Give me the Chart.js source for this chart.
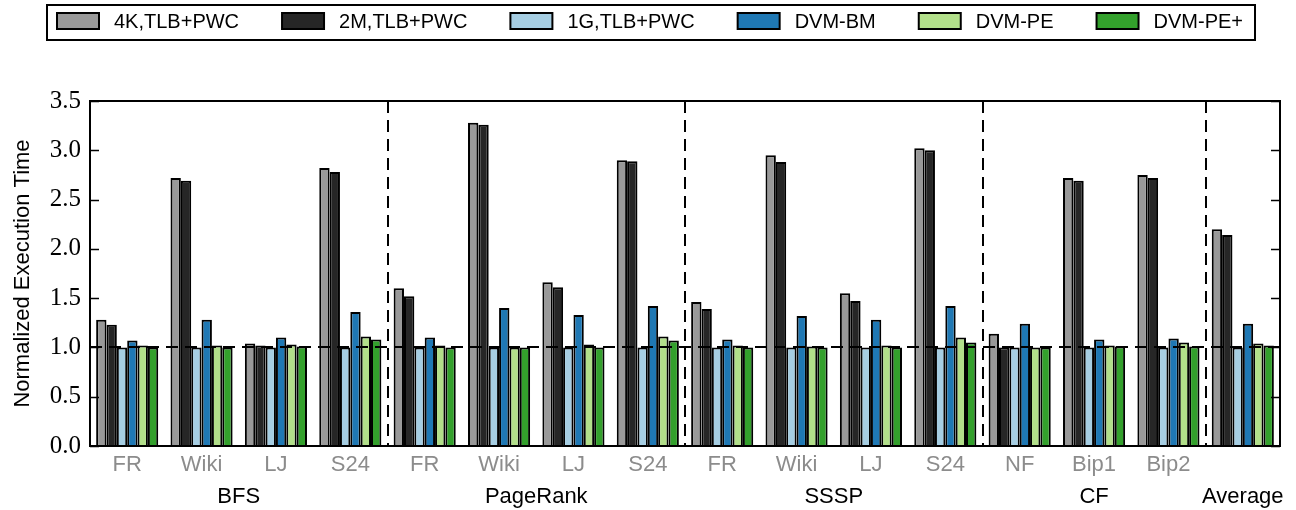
<!DOCTYPE html>
<html>
<head>
<meta charset="utf-8">
<script src="https://cdn.jsdelivr.net/npm/chart.js@4"></script>
<style>
  html, body { margin: 0; padding: 0; background: #fff; }
  #wrap { width: 1296px; height: 510px; }
</style>
</head>
<body>
<div id="wrap"><canvas id="chart" width="1296" height="510"></canvas></div>
<script>
// categories (inputs per workload) and the workload groups under them
const categories = ['FR', 'Wiki', 'LJ', 'S24', 'FR', 'Wiki', 'LJ', 'S24', 'FR', 'Wiki', 'LJ', 'S24', 'NF', 'Bip1', 'Bip2', ''];
const groupNames = ['BFS', 'PageRank', 'SSSP', 'CF', 'Average'];
const groupSizes = [4, 4, 4, 3, 1];

const seriesLabels = ['4K,TLB+PWC', '2M,TLB+PWC', '1G,TLB+PWC', 'DVM-BM', 'DVM-PE', 'DVM-PE+'];
const seriesColors = ['#999999', '#262626', '#a6cee3', '#1f78b4', '#b2df8a', '#33a02c'];

// normalized execution time
const tlb4k  = [1.28, 2.72, 1.04, 2.82, 1.60, 3.28, 1.66, 2.90, 1.46, 2.95, 1.55, 3.02, 1.14, 2.72, 2.75, 2.20];
const tlb2m  = [1.23, 2.69, 1.02, 2.78, 1.52, 3.26, 1.61, 2.89, 1.39, 2.88, 1.47, 3.00, 1.00, 2.69, 2.72, 2.14];
const tlb1g  = [1.00, 1.00, 1.00, 1.00, 1.00, 1.00, 1.00, 1.00, 1.00, 1.00, 1.00, 1.00, 1.00, 1.00, 1.00, 1.00];
const dvmBm  = [1.07, 1.28, 1.10, 1.36, 1.10, 1.40, 1.33, 1.42, 1.08, 1.32, 1.28, 1.42, 1.24, 1.08, 1.09, 1.24];
const dvmPe  = [1.02, 1.02, 1.03, 1.11, 1.02, 1.00, 1.03, 1.11, 1.02, 1.01, 1.02, 1.10, 1.00, 1.02, 1.05, 1.04];
const dvmPeP = [1.00, 1.00, 1.01, 1.08, 1.00, 1.00, 1.00, 1.07, 1.00, 1.00, 1.00, 1.05, 1.00, 1.01, 1.01, 1.02];

const yMin = 0, yMax = 3.5, yStep = 0.5;
const baseline = 1.0;

const seriesValues = [tlb4k, tlb2m, tlb1g, dvmBm, dvmPe, dvmPeP];

const sansFont = "'Liberation Sans', Arial, Helvetica, sans-serif";
const serifFont = "'Liberation Serif', 'DejaVu Serif', serif";

// dashed reference lines, frame and inward ticks
const frameMarks = {
  id: 'frameMarks',
  afterDatasetsDraw(chart) {
    const { ctx, chartArea: a, scales } = chart;
    const y = scales.y;
    ctx.save();
    ctx.strokeStyle = '#000';
    ctx.lineWidth = 2;
    ctx.setLineDash([12, 7]);

    // y = 1.0 line
    const yb = Math.round(y.getPixelForValue(baseline));
    ctx.beginPath();
    ctx.moveTo(a.left, yb);
    ctx.lineTo(a.right, yb);
    ctx.stroke();

    // group separators
    const catW = (a.right - a.left) / categories.length;
    let idx = 0;
    groupSizes.slice(0, -1).forEach(n => {
      idx += n;
      const px = Math.round(a.left + idx * catW);
      ctx.beginPath();
      ctx.moveTo(px, a.top);
      ctx.lineTo(px, a.bottom);
      ctx.stroke();
    });

    ctx.setLineDash([]);
    ctx.strokeRect(a.left, a.top, a.right - a.left, a.bottom - a.top);

    // inward tick marks on both sides
    ctx.lineWidth = 1.5;
    y.ticks.forEach(t => {
      const py = Math.round(y.getPixelForValue(t.value)) + 0.5;
      ctx.beginPath();
      ctx.moveTo(a.left, py);
      ctx.lineTo(a.left + 9, py);
      ctx.moveTo(a.right, py);
      ctx.lineTo(a.right - 9, py);
      ctx.stroke();
    });
    ctx.restore();
  }
};

// workload names under the input labels
const groupLabels = {
  id: 'groupLabels',
  afterDraw(chart) {
    const { ctx, chartArea: a } = chart;
    const catW = (a.right - a.left) / categories.length;
    ctx.save();
    ctx.fillStyle = '#000';
    ctx.font = '22px ' + sansFont;
    ctx.textAlign = 'center';
    ctx.textBaseline = 'middle';
    let start = 0;
    groupNames.forEach((name, i) => {
      const mid = a.left + (start + groupSizes[i] / 2) * catW;
      ctx.fillText(name, mid, 497);
      start += groupSizes[i];
    });
    ctx.restore();
  }
};

// boxed legend across the top
const boxLegend = {
  id: 'boxLegend',
  afterDraw(chart) {
    const { ctx } = chart;
    const patchW = 42, patchH = 16, textGap = 15, itemGap = 43;
    ctx.save();
    ctx.font = '20px ' + sansFont;
    const widths = chart.data.datasets.map(d => ctx.measureText(d.label).width);
    let total = 0;
    widths.forEach((w, i) => { total += patchW + textGap + w + (i < widths.length - 1 ? itemGap : 0); });
    let x = Math.round(650 - total / 2);
    ctx.strokeStyle = '#000';
    ctx.lineWidth = 2;
    ctx.strokeRect(x - 10, 5, total + 22, 35);
    ctx.textBaseline = 'middle';
    ctx.textAlign = 'left';
    chart.data.datasets.forEach((d, i) => {
      ctx.fillStyle = d.backgroundColor;
      ctx.fillRect(x, 13, patchW, patchH);
      ctx.lineWidth = 2;
      ctx.strokeRect(x, 13, patchW, patchH);
      ctx.fillStyle = '#000';
      ctx.fillText(d.label, x + patchW + textGap, 22);
      x += patchW + textGap + widths[i] + itemGap;
    });
    ctx.restore();
  }
};

const datasets = seriesLabels.map((label, i) => ({
  label: label,
  data: seriesValues[i],
  backgroundColor: seriesColors[i],
  borderColor: '#000',
  borderWidth: 2,
  borderSkipped: 'bottom',
  categoryPercentage: 0.835,
  barPercentage: 1.0
}));

new Chart(document.getElementById('chart'), {
  type: 'bar',
  data: { labels: categories, datasets: datasets },
  options: {
    responsive: false,
    animation: false,
    layout: { padding: { top: 101, right: 16, left: 0, bottom: 0 } },
    plugins: {
      legend: { display: false },
      tooltip: { enabled: false }
    },
    scales: {
      x: {
        grid: { display: false, drawTicks: false },
        border: { display: false },
        ticks: {
          color: '#8c8c8c',
          font: { family: sansFont, size: 22 },
          padding: 6,
          maxRotation: 0,
          autoSkip: false
        },
        afterFit(scale) { scale.height = 64; }
      },
      y: {
        min: yMin,
        max: yMax,
        grid: { display: false, drawTicks: false },
        border: { display: false },
        ticks: {
          stepSize: yStep,
          color: '#000',
          font: { family: serifFont, size: 25 },
          padding: 9,
          callback: v => Number(v).toFixed(1)
        },
        title: {
          display: true,
          text: 'Normalized Execution Time',
          color: '#000',
          font: { family: sansFont, size: 22 },
          padding: { top: 10, bottom: 4 }
        },
        afterFit(scale) { scale.width = 90; }
      }
    }
  },
  plugins: [frameMarks, groupLabels, boxLegend]
});
</script>
</body>
</html>
